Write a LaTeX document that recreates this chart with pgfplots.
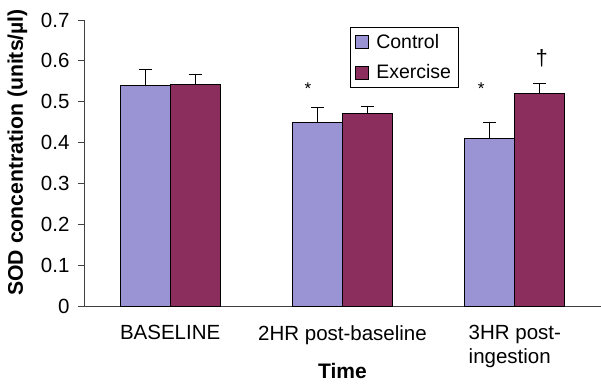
\documentclass[border=0pt]{standalone}
\usepackage{pgfplots}
\pgfplotsset{compat=1.18}
\usepackage{fontspec}
\setmainfont{Liberation Sans}
\definecolor{ctrl}{HTML}{9B94D4}
\definecolor{exer}{HTML}{8B2D5D}
\definecolor{axgray}{HTML}{404040}
\begin{document}
\begin{tikzpicture}[x=1pt,y=1pt]
\useasboundingbox (0,0) rectangle (601,383);
\begin{axis}[
  at={(84pt,77pt)}, anchor=south west,
  scale only axis, width=517pt, height=286pt,
  xmin=-0.5, xmax=2.5, ymin=0, ymax=0.7,
  axis x line=bottom, axis y line=left,
  axis line style={axgray, line width=1pt, -},
  every tick/.style={axgray, line width=0.8pt},
  tick align=outside,
  ytick={0,0.1,...,0.7},
  yticklabel style={/pgf/number format/fixed, /pgf/number format/precision=1, xshift=-5pt},
  /pgf/number format/assume math mode=true,
  major tick length=6pt,
  xtick={0,1,2},
  xticklabels={BASELINE, 2HR post-baseline, {3HR post-\\ingestion}},
  xticklabel style={align=left, yshift=-10pt},
  x tick style={draw=none},
  extra x ticks={0.5,1.5},
  extra x tick labels={},
  extra x tick style={x tick style={axgray, line width=0.8pt}, major tick length=5pt},
  font=\fontsize{20}{24}\selectfont,
  ticklabel style={font=\fontsize{20.5}{24}\selectfont},
  xlabel={\textbf{Time}},
  xlabel style={at={(axis description cs:0.5,-0.228)}, anchor=center, font=\fontsize{21}{24}\selectfont},
  ylabel={\textbf{SOD concentration (units/µl)}},
  ylabel style={at={(axis description cs:-0.1286,0.537)}, anchor=center, font=\fontsize{21.2}{24}\selectfont},
  ybar=0pt, bar width=50pt,
  legend style={at={(axis description cs:0.5145,0.977)}, anchor=north west,
    draw=black, line width=0.8pt, font=\fontsize{19.5}{23}\selectfont,
    row sep=11pt, inner xsep=5pt, inner ysep=5pt},
  legend cell align=left,
  legend image code/.code={\draw[#1,draw=black,line width=0.8pt] (0pt,-6.5pt) rectangle (13pt,6.5pt); \path (18pt,0pt);},
  error bars/y dir=plus, error bars/y explicit,
  error bars/error bar style={black, line width=1pt},
  error bars/error mark options={rotate=90, mark size=6.5pt, black, line width=1pt},
]
\addplot[fill=ctrl, draw=black, line width=1pt] coordinates {
  (0,0.539) +- (0,0.039)
  (1,0.448) +- (0,0.038)
  (2,0.410) +- (0,0.038)
};
\addplot[fill=exer, draw=black, line width=1pt] coordinates {
  (0,0.543) +- (0,0.023)
  (1,0.470) +- (0,0.019)
  (2,0.520) +- (0,0.024)
};
\legend{Control, Exercise}
\node[font=\fontsize{17}{20}\selectfont] at (axis cs:0.80,0.532) {*};
\node[font=\fontsize{17}{20}\selectfont] at (axis cs:1.804,0.532) {*};
\node[font=\fontsize{22}{24}\selectfont] at (axis cs:2.156,0.607) {†};
\end{axis}
\end{tikzpicture}
\end{document}
